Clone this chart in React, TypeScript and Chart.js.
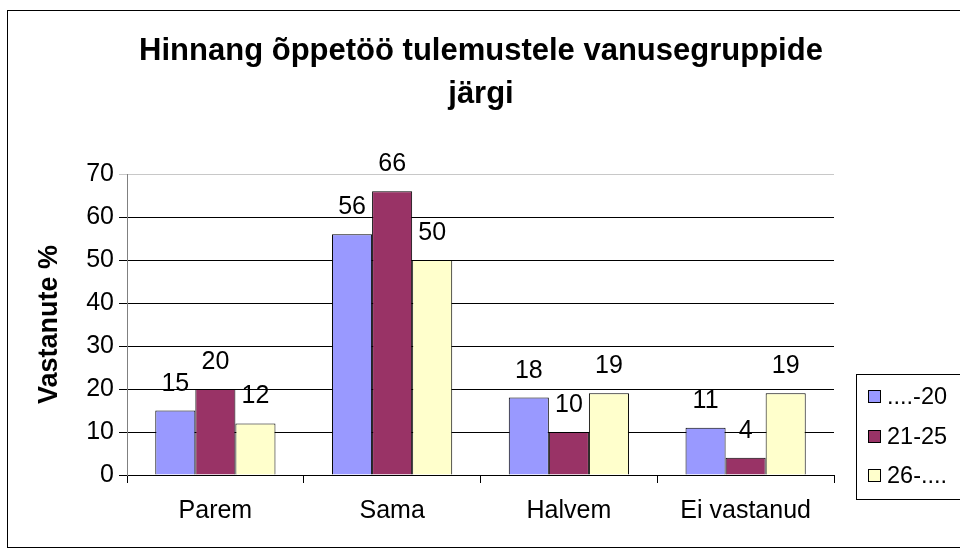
import React, { useEffect, useRef } from "react";
import { Chart, registerables } from "chart.js";

Chart.register(...registerables);

const TITLE_LINES = ["Hinnang õppetöö tulemustele vanusegruppide", "järgi"];
const Y_TITLE = "Vastanute %";
const CATEGORIES = ["Parem", "Sama", "Halvem", "Ei vastanud"];
const SERIES_LABELS = ["....-20", "21-25", "26-...."];
const SERIES_A = [15, 56, 18, 11];
const SERIES_B = [20, 66, 10, 4];
const SERIES_C = [12, 50, 19, 19];
const SERIES_COLORS = ["#9999FF", "#993366", "#FFFFCC"];
const Y_MIN = 0;
const Y_MAX = 70;
const Y_STEP = 10;

const FONT = "Arial, 'Liberation Sans', sans-serif";

const decorPlugin = {
  id: "decor",
  beforeDraw(chart: any) {
    const ctx = chart.ctx;
    ctx.save();
    ctx.fillStyle = "#ffffff";
    ctx.fillRect(0, 0, chart.width, chart.height);
    ctx.strokeStyle = "#000000";
    ctx.lineWidth = 1;
    ctx.strokeRect(7.5, 10.5, 1100, 537);
    ctx.restore();
  },
  afterDraw(chart: any) {
    const ctx = chart.ctx;
    ctx.save();
    ctx.fillStyle = "#000";
    ctx.font = `bold 31px ${FONT}`;
    ctx.textAlign = "center";
    ctx.textBaseline = "alphabetic";
    const baselines = [60, 103];
    TITLE_LINES.forEach((t, i) => ctx.fillText(t, 481, baselines[i]));

    ctx.strokeStyle = "#000";
    ctx.lineWidth = 1;
    ctx.strokeRect(856.5, 374.5, 200, 125);
    const centers = [397, 437, 476];
    ctx.font = `23.5px ${FONT}`;
    ctx.textAlign = "left";
    ctx.textBaseline = "middle";
    chart.data.datasets.forEach((ds: any, i: number) => {
      const cy = centers[i];
      ctx.fillStyle = ds.backgroundColor;
      ctx.fillRect(868.5, cy - 6.5, 12, 12);
      ctx.strokeRect(868.5, cy - 6.5, 12, 12);
      ctx.fillStyle = "#000";
      ctx.fillText(ds.label, 887, cy + 1);
    });
    ctx.restore();
  },
  afterDatasetsDraw(chart: any) {
    const ctx = chart.ctx;
    ctx.save();
    ctx.fillStyle = "#000";
    ctx.font = `25px ${FONT}`;
    ctx.textAlign = "center";
    ctx.textBaseline = "alphabetic";
    chart.data.datasets.forEach((ds: any, i: number) => {
      const meta = chart.getDatasetMeta(i);
      meta.data.forEach((bar: any, j: number) => {
        ctx.fillText(String(ds.data[j]), bar.x, bar.y - 20);
      });
    });
    ctx.restore();
  },
};

export default function App() {
  const ref = useRef<HTMLCanvasElement | null>(null);
  useEffect(() => {
    if (!ref.current) return;
    const chart = new Chart(ref.current, {
      type: "bar",
      data: {
        labels: CATEGORIES,
        datasets: [SERIES_A, SERIES_B, SERIES_C].map((d, i) => ({
          label: SERIES_LABELS[i],
          data: d,
          backgroundColor: SERIES_COLORS[i],
          borderColor: "#000000",
          borderWidth: 1,
          categoryPercentage: 0.68,
          barPercentage: 1.0,
        })),
      },
      options: {
        responsive: false,
        animation: false,
        layout: { padding: { left: 0, right: 126, top: 174, bottom: 0 } },
        plugins: {
          legend: { display: false },
          title: { display: false },
          tooltip: { enabled: false },
        },
        scales: {
          x: {
            grid: {
              display: true,
              drawOnChartArea: false,
              drawTicks: true,
              tickLength: 8,
              color: "#000000",
            },
            border: { display: true, color: "#000000" },
            ticks: {
              color: "#000",
              font: { family: FONT, size: 25 },
              padding: 13,
              maxRotation: 0,
            },
            afterFit: (s: any) => {
              s.height = 75;
            },
          },
          y: {
            min: Y_MIN,
            max: Y_MAX,
            ticks: {
              stepSize: Y_STEP,
              color: "#000",
              font: { family: FONT, size: 25 },
              padding: 5,
            },
            grid: {
              color: (c: any) => (c.tick && c.tick.value === Y_MAX ? "#c8c8c8" : "#000000"),
              tickLength: 8,
            },
            border: { display: true, color: "#808080" },
            title: {
              display: true,
              text: Y_TITLE,
              color: "#000",
              font: { family: FONT, size: 27, weight: "bold" },
              padding: { top: 33, bottom: 0 },
            },
            afterFit: (s: any) => {
              s.width = 127;
            },
          },
        },
      },
      plugins: [decorPlugin],
    });
    return () => chart.destroy();
  }, []);
  return (
    <div style={{ position: "fixed", left: 0, top: 0, width: 960, height: 550, overflow: "hidden", background: "#fff" }}>
      <canvas ref={ref} width={960} height={550} style={{ display: "block" }} />
    </div>
  );
}
